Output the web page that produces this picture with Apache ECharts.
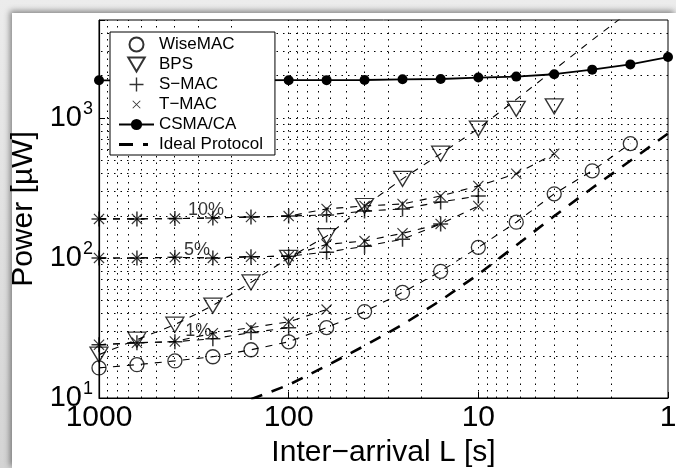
<!DOCTYPE html>
<html>
<head>
<meta charset="utf-8">
<script src="https://cdn.jsdelivr.net/npm/echarts@6/dist/echarts.min.js"></script>
<style>
  html, body { margin: 0; padding: 0; }
  body { width: 676px; height: 468px; overflow: hidden; position: relative;
         background: linear-gradient(#ececec, #d4d4d4); }
  #panel { position: absolute; left: 12px; top: 13px; width: 664px; height: 455px;
           background: #fff; box-shadow: -2px -2px 6px rgba(0, 0, 0, 0.45); }
  #chart { position: absolute; left: 0; top: 0; width: 676px; height: 468px; }
</style>
</head>
<body>
<div id="panel"></div>
<div id="chart"></div>
<script>
// inter-arrival time L [s], one column per measured point
const interArrival = [1000, 631, 398, 251, 158, 100, 63.1, 39.8, 25.1, 15.8, 10, 6.31, 3.98, 2.51, 1.58, 1];

// power [uW]
const wiseMAC  = [16.4, 17.3, 18.4, 19.7, 22.1, 25.2, 31.8, 41.4, 56.7, 80.3, 119, 180, 287, 419, 655, null];
const bps      = [20.4, 26.1, 33.4, 45.7, 66.9, 100, 143, 235, 367, 555, 839, 1160, 1210, null, null, null];
const bpsModel = [20.4, 26.1, 33.4, 45.7, 66.9, 100, 143, 235, 367, 555, 839, 1355, 2207, 3597, 5800, null];
const smac10   = [190, 190, 191, 193, 196, 199, 203, 216, 224, 251, 277, null, null, null, null, null];
const smac5    = [100, 100, 101, 100, 102, 103, 110, 121, 136, 175, null, null, null, null, null, null];
const smac1    = [24.0, 24.8, 25.2, 26.5, 29.3, 31.8, null, null, null, null, null, null, null, null, null, null];
const tmac10   = [190, 190, 191, 193, 196, 199, 224, 235, 243, 277, 327, 399, 555, null, null, null];
const tmac5    = [100, 100, 101, 100, 102, 103, 125, 132, 150, 175, 235, null, null, null, null, null];
const tmac1    = [24.0, 24.8, 25.3, 29.0, 31.8, 35.0, 42.8, null, null, null, null, null, null, null, null, null];
const csma     = [1855, 1855, 1855, 1855, 1857, 1858, 1860, 1865, 1886, 1896, 1940, 1972, 2050, 2210, 2410, 2720];
const ideal    = [null, null, null, null, 9.8, 12.4, 17.0, 23.6, 33.4, 49.7, 76.4, 123, 199, 316, 494, 773];

// duty-cycle annotations
const noteText = ['10%', '5%', '1%'];
const noteL    = [273, 304, 300];
const noteP    = [220, 113, 30];

const FONT = 'Liberation Sans';
const pairs = vals => vals.map((v, i) => v == null ? null : [interArrival[i], v]).filter(Boolean);

// dotted grid at every decade sub-division
const gridX = [];
const gridY = [];
[1, 10, 100].forEach(d => { for (let k = 1; k <= 9; k++) if (d * k > 1) gridX.push(d * k); });
[10, 100, 1000].forEach(d => { for (let k = 1; k <= 9; k++) if (d * k > 10 && d * k < 5000) gridY.push(d * k); });

// marker shapes
const plusPath  = 'path://M-1,-0.1L1,-0.1L1,0.1L-1,0.1Z M-0.1,-1L0.1,-1L0.1,1L-0.1,1Z';
const crossPath = 'path://M-1,-0.85L-0.85,-1L1,0.85L0.85,1Z M0.85,-1L1,-0.85L-0.85,1L-1,0.85Z';
const triDown   = 'path://M-1,-0.85L1,-0.85L0,0.85Z';
// legend-only icons (degenerate corner points set the box size)
const crossIcon = 'path://M-1.7,-1.7h0.01v0.01h-0.01Z M1.7,1.7h-0.01v-0.01h0.01Z ' +
                  'M-1,-0.84L-0.84,-1L1,0.84L0.84,1Z M0.84,-1L1,-0.84L-0.84,1L-1,0.84Z';
const idealIcon = 'path://M0,0h0.01v0.01h-0.01Z M35,14h-0.01v-0.01h0.01Z M0,5.5H14V8.5H0Z M24,5.5H29V8.5H24Z';

const hollow = { color: 'rgba(0,0,0,0)', borderColor: '#000', borderWidth: 1.3 };

function modelLine(vals) {
  return {
    type: 'line', data: pairs(vals), symbol: 'none', silent: true, z: 2,
    lineStyle: { color: '#000', width: 1.1, type: [7, 7] }
  };
}
function markers(name, vals, extra) {
  return Object.assign({ type: 'scatter', name, data: pairs(vals), z: 4, silent: true }, extra);
}
const plusOpt  = { symbol: plusPath, symbolSize: 15, itemStyle: { color: '#000' } };
const crossOpt = { symbol: crossPath, symbolSize: 11, itemStyle: { color: '#000' } };

const chart = echarts.init(document.getElementById('chart'));

const option = {
  animation: false,
  grid: { left: 99, right: 8, top: 20, bottom: 70, show: true, borderColor: '#000', borderWidth: 1,
          outerBoundsMode: 'none', containLabel: false },
  legend: {
    zlevel: 1, z: 10,
    data: [
      { name: 'WiseMAC' },
      { name: 'BPS', icon: triDown },
      { name: 'S\u2212MAC', icon: plusPath },
      { name: 'T\u2212MAC', icon: crossIcon },
      { name: 'CSMA/CA' },
      { name: 'Ideal Protocol', icon: idealIcon }
    ],
    orient: 'vertical',
    left: 110, top: 32,
    padding: [4, 12, 2, 8],
    itemWidth: 35, itemHeight: 14, itemGap: 3,
    backgroundColor: '#fff', borderColor: '#000', borderWidth: 1, borderRadius: 0,
    textStyle: { fontFamily: FONT, fontSize: 17, color: '#000' },
    selectedMode: false
  },
  xAxis: {
    type: 'log', logBase: 10, min: 1, max: 1000, inverse: true,
    name: 'Inter\u2212arrival L [s]', nameLocation: 'middle', nameGap: 40,
    nameTextStyle: { fontFamily: FONT, fontSize: 30, color: '#000' },
    axisLine: { lineStyle: { color: '#000', width: 1.2 } },
    axisTick: { inside: true, length: 6, lineStyle: { color: '#000' } },
    axisLabel: { fontFamily: FONT, fontSize: 30, color: '#000', margin: 5,
                 formatter: v => String(Math.round(v)) },
    splitLine: { show: false }
  },
  yAxis: {
    type: 'log', logBase: 10, min: 10, max: 5000,
    name: 'Power [\u00b5W]', nameLocation: 'middle', nameGap: 55,
    nameTextStyle: { fontFamily: FONT, fontSize: 30, color: '#000' },
    axisLine: { lineStyle: { color: '#000', width: 1.2 } },
    axisTick: { inside: true, length: 6, lineStyle: { color: '#000' } },
    axisLabel: {
      margin: 6,
      formatter: v => {
        const e = Math.log10(v), r = Math.round(e);
        if (Math.abs(e - r) > 1e-6) return '';
        return '{b|10}{s|' + r + '}';
      },
      rich: {
        b: { fontFamily: FONT, fontSize: 29, color: '#000' },
        s: { fontFamily: FONT, fontSize: 18, color: '#000', verticalAlign: 'top', padding: [0, 0, 17, 1] }
      }
    },
    splitLine: { show: false }
  },
  series: [
    {
      type: 'line', data: [], silent: true, z: 1, symbol: 'none',
      markLine: {
        silent: true, symbol: ['none', 'none'], animation: false,
        label: { show: false },
        lineStyle: { color: '#000', width: 1, type: [1.5, 5] },
        data: gridX.map(v => ({ xAxis: v })).concat(gridY.map(v => ({ yAxis: v })))
      }
    },
    modelLine(wiseMAC),
    modelLine(bpsModel),
    modelLine(smac10), modelLine(smac5), modelLine(smac1),
    modelLine(tmac10), modelLine(tmac5), modelLine(tmac1),
    {
      type: 'line', name: 'Ideal Protocol', data: pairs(ideal), symbol: 'none', z: 3,
      itemStyle: { color: '#000' },
      lineStyle: { color: '#000', width: 2.6, type: [12, 10] }
    },
    {
      type: 'line', name: 'CSMA/CA', data: pairs(csma), z: 3,
      symbol: 'circle', symbolSize: 10,
      itemStyle: { color: '#000' },
      lineStyle: { color: '#000', width: 1.8 }
    },
    markers('WiseMAC', wiseMAC, { symbol: 'circle', symbolSize: 14, itemStyle: hollow }),
    markers('BPS', bps, { symbol: triDown, symbolSize: [18, 15], itemStyle: hollow }),
    markers('S\u2212MAC', smac10, plusOpt),
    markers('S\u2212MAC', smac5, plusOpt),
    markers('S\u2212MAC', smac1, plusOpt),
    markers('T\u2212MAC', tmac10, crossOpt),
    markers('T\u2212MAC', tmac5, crossOpt),
    markers('T\u2212MAC', tmac1, crossOpt),
    {
      type: 'scatter', silent: true, z: 5, symbolSize: 1,
      itemStyle: { color: 'rgba(0,0,0,0)' },
      data: noteText.map((t, i) => [noteL[i], noteP[i], t]),
      label: { show: true, position: 'inside', formatter: p => p.value[2],
               fontFamily: FONT, fontSize: 18, color: '#000' }
    }
  ]
};

chart.setOption(option);
</script>
</body>
</html>
